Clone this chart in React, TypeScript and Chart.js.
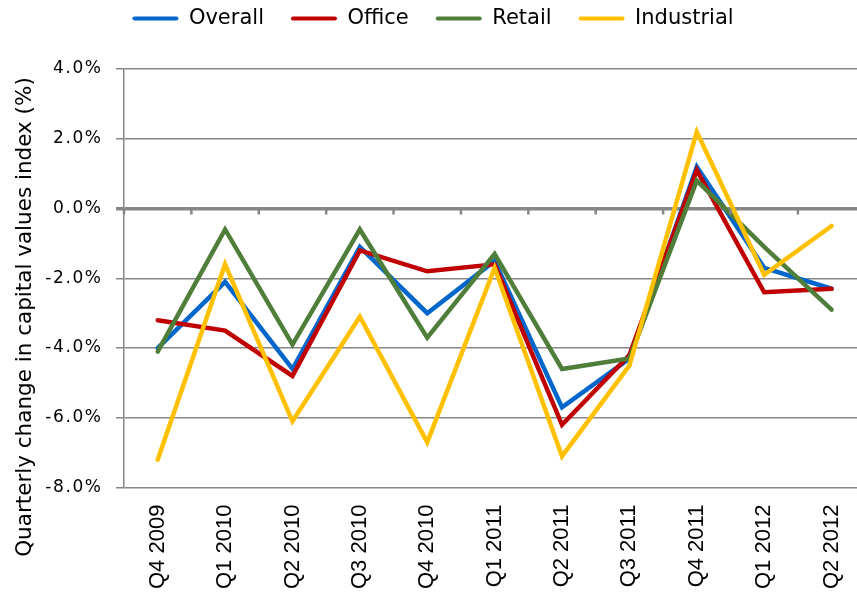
import React, { useEffect, useRef } from "react";
import { Chart, registerables } from "chart.js";

Chart.register(...registerables);

const categories = ["Q4 2009", "Q1 2010", "Q2 2010", "Q3 2010", "Q4 2010", "Q1 2011", "Q2 2011", "Q3 2011", "Q4 2011", "Q1 2012", "Q2 2012"];
const overall = [-4.0, -2.1, -4.6, -1.1, -3.0, -1.5, -5.7, -4.3, 1.2, -1.7, -2.3];
const office = [-3.2, -3.5, -4.8, -1.2, -1.8, -1.6, -6.2, -4.2, 1.1, -2.4, -2.3];
const retail = [-4.1, -0.6, -3.9, -0.6, -3.7, -1.3, -4.6, -4.3, 0.8, -1.1, -2.9];
const industrial = [-7.2, -1.6, -6.1, -3.1, -6.7, -1.7, -7.1, -4.5, 2.2, -1.9, -0.5];
const yMin = -8;
const yMax = 4;
const yStep = 2;
const yTitle = "Quarterly change in capital values index (%)";

const GRID = "#868686";

export default function App() {
  const ref = useRef<HTMLCanvasElement | null>(null);
  useEffect(() => {
    if (!ref.current) return;
    const mk = (label: string, data: number[], color: string, order: number) => ({
      label,
      data,
      borderColor: color,
      backgroundColor: color,
      borderWidth: 4.5,
      pointRadius: 0,
      tension: 0,
      borderCapStyle: "round" as const,
      borderJoinStyle: "miter" as const,
      order,
    });
    const legendMargin = {
      id: "legendMargin",
      beforeInit(chart: any) {
        const lg = chart.legend;
        if (!lg) return;
        const orig = lg.fit;
        lg.fit = function () {
          orig.bind(lg)();
          this.height += 30;
        };
      },
    };
    const extras = {
      id: "extras",
      afterDraw(chart: any) {
        const ctx = chart.ctx;
        const xs = chart.scales.x;
        const ys = chart.scales.y;
        const y0 = ys.getPixelForValue(0);
        const n = categories.length;
        const step = xs.width / n;
        ctx.save();
        ctx.strokeStyle = GRID;
        ctx.lineWidth = 2.5;
        for (let i = 0; i <= n; i++) {
          const x = xs.left + i * step;
          ctx.beginPath();
          ctx.moveTo(x, y0);
          ctx.lineTo(x, y0 + 6);
          ctx.stroke();
        }
        ctx.restore();
        // y tick labels with letter spacing
        ctx.save();
        ctx.fillStyle = "#000";
        ctx.font = '17px "DejaVu Sans"';
        (ctx as any).letterSpacing = "1.6px";
        ctx.textAlign = "right";
        ctx.textBaseline = "middle";
        ys.ticks.forEach((t: any) => {
          ctx.fillText(Number(t.value).toFixed(1) + "%", ys.right - 23 + 1.6, ys.getPixelForValue(t.value));
        });
        ctx.restore();
        // y title
        ctx.save();
        ctx.fillStyle = "#000";
        ctx.font = '21.5px "DejaVu Sans"';
        ctx.translate(31, 317);
        ctx.rotate(-Math.PI / 2);
        ctx.textAlign = "center";
        ctx.textBaseline = "alphabetic";
        ctx.fillText(yTitle, 0, 0);
        ctx.restore();
      },
    };
    const chart = new Chart(ref.current, {
      type: "line",
      data: {
        labels: categories,
        datasets: [
          mk("Overall", overall, "#0066CC", 4),
          mk("Office", office, "#C00000", 3),
          mk("Retail", retail, "#4F7E3B", 2),
          mk("Industrial", industrial, "#FFC000", 1),
        ],
      },
      options: {
        responsive: false,
        animation: false,
        layout: { padding: { top: -19, left: 0, right: 1, bottom: -2 } },
        plugins: {
          tooltip: { enabled: false },
          legend: {
            position: "top",
            labels: {
              boxWidth: 46,
              boxHeight: 4,
              padding: 27,
              color: "#000",
              font: { family: '"DejaVu Sans"', size: 21 },
              useBorderRadius: true,
              borderRadius: 2,
              sort: (a: any, b: any) => a.datasetIndex - b.datasetIndex,
              generateLabels: (c: any) =>
                (Chart.defaults.plugins.legend.labels.generateLabels as any)(c).map((l: any) => ({ ...l, lineWidth: 0 })),
            },
          },
        },
        scales: {
          x: {
            offset: true,
            grid: { display: false },
            border: { display: false },
            ticks: {
              autoSkip: false,
              minRotation: 90,
              maxRotation: 90,
              padding: 9,
              color: "#000",
              font: { family: '"Liberation Sans"', size: 22 },
            },
          },
          y: {
            min: yMin,
            max: yMax,
            afterFit: (s: any) => {
              s.width = 124;
            },
            ticks: {
              display: false,
              stepSize: yStep,
            },
            grid: {
              color: GRID,
              lineWidth: (c: any) => (c.tick && c.tick.value === 0 ? 3.5 : 1.5),
              tickLength: 8,
            },
            border: { display: true, color: GRID, width: 1.5 },
          },
        },
      },
      plugins: [legendMargin, extras],
    });
    return () => chart.destroy();
  }, []);
  return (
    <div style={{ position: "absolute", left: 0, top: 0, width: 857, height: 596, overflow: "hidden", background: "#fff" }}>
      <canvas ref={ref} width={867} height={596} style={{ display: "block" }} />
    </div>
  );
}
